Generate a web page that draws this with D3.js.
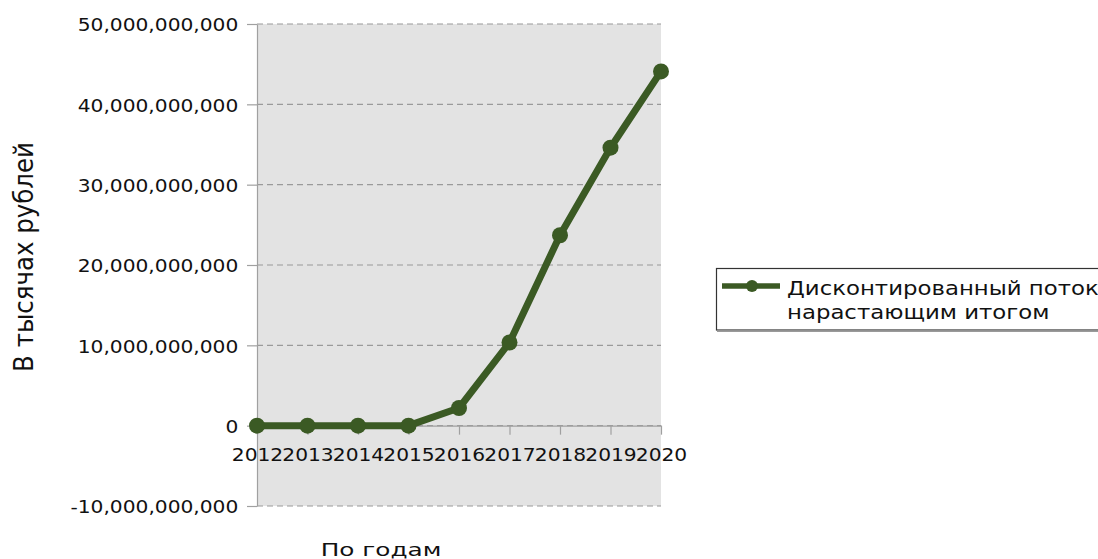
<!DOCTYPE html>
<html>
<head>
<meta charset="utf-8">
<script src="https://cdn.jsdelivr.net/npm/d3@7"></script>
<style>
  html, body { margin: 0; padding: 0; background: #fff; }
  svg { display: block; font-family: "DejaVu Sans", sans-serif; }
</style>
</head>
<body>
<svg id="chart" width="1098" height="559"></svg>
<script>
// Cumulative discounted cash flow, thousands of roubles
const years = ["2012", "2013", "2014", "2015", "2016", "2017", "2018", "2019", "2020"];
const values = [0, 0, 0, 0, 2.2e9, 10.35e9, 23.7e9, 34.6e9, 44.1e9];
const yTicks = [-10e9, 0, 10e9, 20e9, 30e9, 40e9, 50e9];
const seriesName = ["Дисконтированный поток", "нарастающим итогом"];
const yTitle = "В тысячах рублей";
const xTitle = "По годам";

const svg = d3.select("#chart");
const lineColor = "#3b5a24";
const textColor = "#111";
const axisColor = "#a0a0a0";
const plot = { left: 257, right: 661, top: 24, bottom: 506 };

const x = d3.scalePoint().domain(years).range([plot.left, plot.right]);
const y = d3.scaleLinear().domain([-10e9, 50e9]).range([plot.bottom, plot.top]);
const fmt = d3.formatLocale({ decimal: ".", thousands: ",", grouping: [3], currency: ["", ""], minus: "-" }).format(",");

// label type is drawn slightly wide
const tickFont = 18.2, tickStretch = 1.11;

// plot background
svg.append("rect")
  .attr("x", plot.left).attr("y", plot.top)
  .attr("width", plot.right - plot.left).attr("height", plot.bottom - plot.top)
  .attr("fill", "#e3e3e3");

// dashed horizontal grid
svg.append("g").selectAll("line").data(yTicks).join("line")
  .attr("x1", plot.left).attr("x2", plot.right)
  .attr("y1", d => y(d)).attr("y2", d => y(d))
  .attr("stroke", "#9a9a9a").attr("stroke-width", 1.2)
  .attr("stroke-dasharray", "6,4");

// y axis
const yAxis = svg.append("g")
  .attr("transform", `translate(${plot.left},0)`)
  .call(d3.axisLeft(y).tickValues(yTicks).tickFormat(fmt).tickSize(10).tickSizeOuter(0));
yAxis.select(".domain").attr("stroke", axisColor).attr("stroke-width", 1.2);
yAxis.selectAll(".tick line").attr("stroke", axisColor).attr("stroke-width", 1.2);
yAxis.selectAll(".tick text")
  .attr("font-size", tickFont).attr("fill", textColor).attr("font-family", "DejaVu Sans")
  .attr("dy", null).attr("y", 6.7)
  .attr("x", -18.7 / tickStretch)
  .attr("transform", `scale(${tickStretch},1)`);

// x axis sits on the zero line
const xAxis = svg.append("g")
  .attr("transform", `translate(0,${y(0)})`)
  .call(d3.axisBottom(x).tickSize(9).tickSizeOuter(0));
xAxis.select(".domain").attr("stroke", axisColor).attr("stroke-width", 1.2);
xAxis.selectAll(".tick line").attr("stroke", axisColor).attr("stroke-width", 1.2);
xAxis.selectAll(".tick text")
  .attr("font-size", tickFont).attr("fill", textColor).attr("font-family", "DejaVu Sans")
  .attr("dy", null).attr("y", 35)
  .attr("transform", `scale(${tickStretch},1)`);

// series line and markers
const line = d3.line().x((d, i) => x(years[i])).y(d => y(d));
svg.append("path").datum(values)
  .attr("d", line).attr("fill", "none")
  .attr("stroke", lineColor).attr("stroke-width", 7).attr("stroke-linejoin", "round");
svg.append("g").selectAll("circle").data(values).join("circle")
  .attr("cx", (d, i) => x(years[i])).attr("cy", d => y(d))
  .attr("r", 8).attr("fill", lineColor);

// axis titles
svg.append("text")
  .attr("transform", `translate(32.7,257) rotate(-90) scale(1,1.08)`)
  .attr("text-anchor", "middle").attr("font-size", 24.5)
  .attr("fill", textColor).text(yTitle);
svg.append("text")
  .attr("transform", `translate(320.7,555.5) scale(1.36,1)`)
  .attr("font-size", 18.2)
  .attr("fill", textColor).text(xTitle);

// legend
const lg = svg.append("g");
lg.append("rect")
  .attr("x", 716.5).attr("y", 268.5).attr("width", 400).attr("height", 61.5)
  .attr("fill", "#fff").attr("stroke", "#333").attr("stroke-width", 1.2);
lg.append("line")
  .attr("x1", 717).attr("x2", 1098).attr("y1", 331.2).attr("y2", 331.2)
  .attr("stroke", "#9a9a9a").attr("stroke-width", 1.5);
lg.append("line")
  .attr("x1", 722).attr("x2", 780).attr("y1", 286).attr("y2", 286)
  .attr("stroke", lineColor).attr("stroke-width", 5.5);
lg.append("circle").attr("cx", 752).attr("cy", 286).attr("r", 6).attr("fill", lineColor);
lg.selectAll("text.lbl").data(seriesName).join("text")
  .attr("class", "lbl")
  .attr("transform", (d, i) => `translate(787,${294.5 + i * 24}) scale(1.165,1)`)
  .attr("font-size", 19.6)
  .attr("fill", textColor).text(d => d);
</script>
</body>
</html>
